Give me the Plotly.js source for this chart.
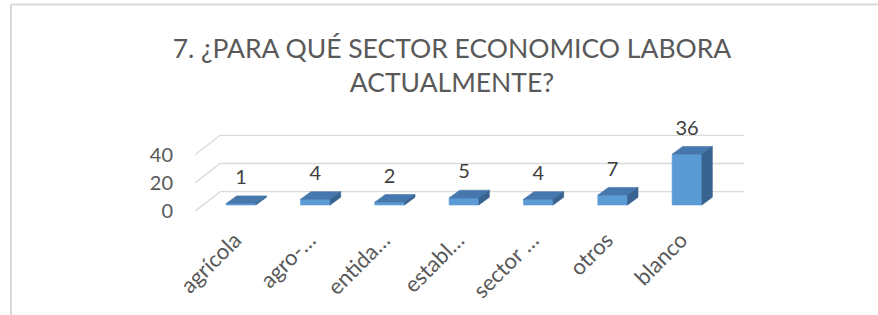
<!DOCTYPE html>
<html><head><meta charset="utf-8">
<script src="https://cdn.plot.ly/plotly-3.0.1.min.js"></script>
<style>html,body{margin:0;padding:0;background:#fff;overflow:hidden}</style>
</head><body><div id="chart" style="width:878px;height:315px"></div>
<script>
// ---- data ----
const categories = ['agrícola', 'agro-…', 'entida…', 'establ…', 'sector …', 'otros', 'blanco'];
const values = [1, 4, 2, 5, 4, 7, 36];
const yTicks = [0, 20, 40];
const titleText = '7. ¿PARA QUÉ SECTOR ECONOMICO LABORA<br>ACTUALMENTE?';

// ---- 3D look geometry (in axis units) ----
const idx = categories.map((_, i) => i);
const W = 0.4, DX = 0.141, DY = 5.46;      // bar width, bar depth offset
const BX = 0.229, BY = 9.43;               // back wall offset
const FX = -0.105, FY = -4.26;             // floor front offset
const XL = -0.51, XR = 6.54;               // wall extents
const X_RANGE = [-0.8207, 6.982];
const LABEL_SHIFT = 0.0807;                // category labels sit at the floor front

function polys(fn) {
  const xs = [], ys = [];
  idx.forEach(i => {
    const p = fn(i, values[i]);
    p.forEach(([a, b]) => { xs.push(a); ys.push(b); });
    xs.push(p[0][0]); ys.push(p[0][1]);
    xs.push(null); ys.push(null);
  });
  return { xs, ys };
}

const gx = [], gy = [];
yTicks.forEach(t => {
  gx.push(XL + FX, XL + BX, XR + BX, null);
  gy.push(t + FY, t + BY, t + BY, null);
});

const frontFace = polys((i, v) => [[i - W/2, 0], [i + W/2, 0], [i + W/2, v], [i - W/2, v]]);
const topFace = polys((i, v) => [[i - W/2, v], [i + W/2, v], [i + W/2 + DX, v + DY], [i - W/2 + DX, v + DY]]);
const sideFace = polys((i, v) => [[i + W/2, 0], [i + W/2 + DX, DY], [i + W/2 + DX, v + DY], [i + W/2, v]]);

const face = (p, color) => ({
  type: 'scatter', x: p.xs, y: p.ys, mode: 'lines', fill: 'toself',
  fillcolor: color, line: { width: 0.6, color: color }, hoverinfo: 'skip', showlegend: false
});

const traces = [
  { type: 'scatter', x: gx, y: gy, mode: 'lines', line: { color: '#d9d9d9', width: 1.3 },
    hoverinfo: 'skip', showlegend: false },
  face(frontFace, '#5b9bd5'),
  face(topFace, '#4677ad'),
  face(sideFace, '#386391'),
  { type: 'scatter', x: idx, y: values.map(v => v + DY + 12), mode: 'text',
    text: values.map(String), textposition: 'middle center',
    textfont: { family: 'Lato, sans-serif', size: 20, color: '#404040' },
    hoverinfo: 'skip', showlegend: false, cliponaxis: false },
  { type: 'scatter', x: [0], y: [0], yaxis: 'y2', mode: 'markers', marker: { opacity: 0 },
    hoverinfo: 'skip', showlegend: false },
  { type: 'scatter', x: [0], y: [0], xaxis: 'x2', mode: 'markers', marker: { opacity: 0 },
    hoverinfo: 'skip', showlegend: false }
];

const layout = {
  width: 878, height: 315,
  margin: { l: 180, r: 118, t: 110, b: 93 },
  paper_bgcolor: '#ffffff', plot_bgcolor: 'rgba(0,0,0,0)',
  showlegend: false,
  title: {
    text: titleText, x: 452 / 878, xanchor: 'center', y: 1 - 58 / 315, yanchor: 'top',
    font: { family: 'Lato, sans-serif', size: 26.5, color: '#595959' }
  },
  xaxis: {
    range: X_RANGE, showgrid: false, zeroline: false, showline: false,
    showticklabels: false, ticks: '', fixedrange: true
  },
  xaxis2: {
    overlaying: 'x', anchor: 'y', side: 'bottom',
    range: [X_RANGE[0] + LABEL_SHIFT, X_RANGE[1] + LABEL_SHIFT],
    showgrid: false, zeroline: false, showline: false,
    tickmode: 'array', tickvals: idx, ticktext: categories, tickangle: -45, ticks: '',
    tickfont: { family: 'Lato, sans-serif', size: 22, color: '#595959' }, fixedrange: true
  },
  yaxis: {
    range: [-12.06, 67.38], showgrid: false, zeroline: false, showline: false,
    showticklabels: false, ticks: '', fixedrange: true
  },
  yaxis2: {
    overlaying: 'y', side: 'left', range: [-12.06 - FY, 67.38 - FY],
    showgrid: false, zeroline: false, showline: false, ticks: '',
    tickmode: 'array', tickvals: yTicks, ticklabelstandoff: 6,
    tickfont: { family: 'Lato, sans-serif', size: 20, color: '#595959' }, fixedrange: true
  },
  shapes: [
    { type: 'line', xref: 'paper', yref: 'paper', x0: -0.2914, x1: 1.21, y0: 1.942, y1: 1.942,
      line: { color: '#d9d9d9', width: 2 } },
    { type: 'line', xref: 'paper', yref: 'paper', x0: -0.2914, x1: -0.2914, y0: 1.942, y1: -0.84,
      line: { color: '#d9d9d9', width: 2 } }
  ]
};

Plotly.newPlot('chart', traces, layout, { displayModeBar: false, staticPlot: true });
</script>
</body></html>
